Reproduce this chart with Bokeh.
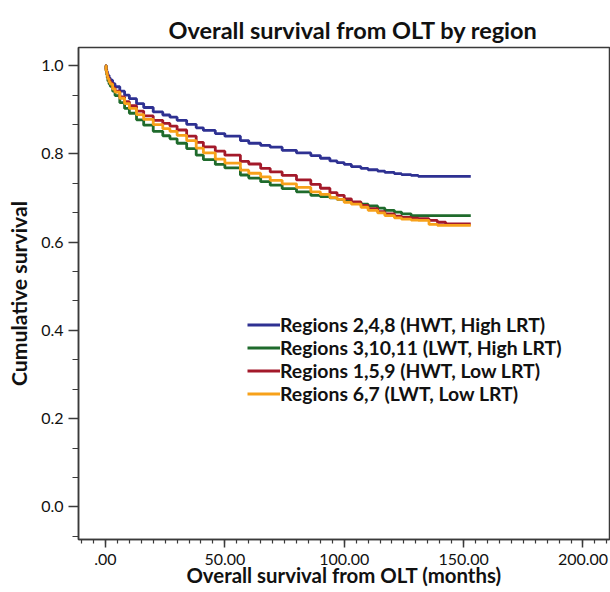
from bokeh.plotting import figure
from bokeh.models import Range1d, FixedTicker, Legend, LegendItem
from bokeh.embed import file_html
from bokeh.resources import INLINE

# ---- data ----
series_labels = [
    "Regions 2,4,8 (HWT, High LRT)",
    "Regions 3,10,11 (LWT, High LRT)",
    "Regions 1,5,9 (HWT, Low LRT)",
    "Regions 6,7 (LWT, Low LRT)",
]
series_colors = ["#2e3192", "#1f6b2c", "#a3192a", "#f7a11a"]

months = [0, 0.25, 0.5, 0.75, 1, 1.5, 2, 3, 4, 6, 8, 10, 13, 16, 20, 24, 27, 30, 34,
          38, 41, 46, 50, 56.5, 60, 65, 69, 74, 80, 86, 90, 94, 97, 100, 103, 107,
          110, 114, 117, 121, 124, 128, 131, 135.5, 139, 142.5, 153]

surv_248 = [1.0, 0.992, 0.987, 0.982, 0.978, 0.972, 0.967, 0.959, 0.952, 0.942, 0.933,
            0.925, 0.914, 0.905, 0.895, 0.888, 0.883, 0.876, 0.867, 0.859, 0.853, 0.846,
            0.840, 0.830, 0.824, 0.819, 0.815, 0.808, 0.802, 0.796, 0.790, 0.784, 0.780,
            0.776, 0.771, 0.767, 0.764, 0.761, 0.758, 0.755, 0.753, 0.751, 0.749, 0.749,
            0.749, 0.749, 0.749]
surv_31011 = [1.0, 0.988, 0.980, 0.972, 0.965, 0.958, 0.953, 0.942, 0.932, 0.916, 0.903,
              0.892, 0.877, 0.865, 0.851, 0.841, 0.834, 0.824, 0.812, 0.797, 0.787, 0.776,
              0.768, 0.752, 0.745, 0.737, 0.729, 0.721, 0.714, 0.706, 0.703, 0.700, 0.697,
              0.692, 0.690, 0.686, 0.682, 0.677, 0.672, 0.668, 0.664, 0.660, 0.660, 0.660,
              0.660, 0.660, 0.660]
surv_159 = [1.0, 0.990, 0.984, 0.978, 0.972, 0.966, 0.960, 0.950, 0.942, 0.929, 0.918,
            0.909, 0.897, 0.886, 0.876, 0.869, 0.863, 0.854, 0.840, 0.826, 0.816, 0.806,
            0.797, 0.783, 0.777, 0.767, 0.759, 0.751, 0.741, 0.731, 0.722, 0.712, 0.706,
            0.698, 0.691, 0.683, 0.676, 0.669, 0.664, 0.659, 0.656, 0.654, 0.653, 0.649,
            0.645, 0.641, 0.641]
surv_67 = [1.0, 0.989, 0.982, 0.976, 0.970, 0.963, 0.958, 0.947, 0.940, 0.926, 0.914,
           0.903, 0.889, 0.878, 0.866, 0.857, 0.851, 0.842, 0.830, 0.813, 0.802, 0.788,
           0.779, 0.763, 0.756, 0.748, 0.740, 0.732, 0.724, 0.714, 0.708, 0.701, 0.697,
           0.690, 0.686, 0.679, 0.672, 0.666, 0.660, 0.655, 0.652, 0.650, 0.649, 0.640,
           0.638, 0.638, 0.638]
series_values = [surv_248, surv_31011, surv_159, surv_67]

x_ticks = [0, 50, 100, 150, 200]
x_tick_labels = [".00", "50.00", "100.00", "150.00", "200.00"]
y_ticks = [0.0, 0.2, 0.4, 0.6, 0.8, 1.0]
y_tick_labels = ["0.0", "0.2", "0.4", "0.6", "0.8", "1.0"]

FONT = "Lato"
AXIS_COL = "#3a3a3a"

p = figure(width=610, height=592,
           x_range=Range1d(-11.3, 211.1), y_range=Range1d(-0.074, 1.041),
           output_backend="svg", toolbar_location=None,
           min_border_left=78, min_border_right=1, min_border_top=47, min_border_bottom=53)

p.title.text = "Overall survival from OLT by region"
p.title.align = "left"
p.title.offset = 90
p.title.text_font = FONT
p.title.text_font_size = "23.5px"
p.title.text_font_style = "bold"
p.title.text_color = "#111111"
p.title.standoff = 8

p.xgrid.visible = False
p.ygrid.visible = False
p.outline_line_color = AXIS_COL
p.outline_line_width = 1.5
p.background_fill_color = "white"
p.border_fill_color = "white"

renderers = []
for vals, col in zip(series_values, series_colors):
    r = p.step(months, vals, mode="after", line_color=col, line_width=2.8)
    renderers.append(r)

minor_x = [v * 5 for v in range(-2, 43)]
minor_y = [k / 15 for k in range(-1, 16)]
p.xaxis.ticker = FixedTicker(ticks=x_ticks, minor_ticks=minor_x)
p.yaxis.ticker = FixedTicker(ticks=y_ticks, minor_ticks=minor_y)
p.xaxis.major_label_overrides = {t: s for t, s in zip(x_ticks, x_tick_labels)}
p.yaxis.major_label_overrides = {t: s for t, s in zip(y_ticks, y_tick_labels)}

for ax in (p.xaxis[0], p.yaxis[0]):
    ax.axis_line_color = AXIS_COL
    ax.axis_line_width = 1.5
    ax.major_tick_line_color = AXIS_COL
    ax.minor_tick_line_color = AXIS_COL
    ax.major_tick_line_width = 1.5
    ax.minor_tick_line_width = 1.2
    ax.major_tick_in = 0
    ax.minor_tick_in = 0
    ax.major_label_text_font = FONT
    ax.major_label_text_font_size = "16px"
    ax.major_label_text_color = "#111111"
    ax.axis_label_text_font = FONT
    ax.axis_label_text_font_style = "bold"
    ax.axis_label_text_color = "#111111"

p.xaxis.axis_label = "Overall survival from OLT (months)"
p.yaxis.axis_label = "Cumulative survival"
p.xaxis.axis_label_text_font_size = "20.4px"
p.yaxis.axis_label_text_font_size = "21.2px"
p.xaxis.major_tick_out = 8
p.xaxis.minor_tick_out = 4
p.yaxis.major_tick_out = 10
p.yaxis.minor_tick_out = 6
p.xaxis.major_label_standoff = 6
p.xaxis.axis_label_standoff = -5
p.yaxis.major_label_standoff = 5
p.yaxis.axis_label_standoff = 6

legend = Legend(items=[LegendItem(label=l, renderers=[r]) for l, r in zip(series_labels, renderers)],
                location=(169, 134))
legend.background_fill_alpha = 0
legend.border_line_alpha = 0
legend.padding = 0
legend.margin = 0
legend.spacing = 0
legend.glyph_width = 33
legend.glyph_height = 23
legend.label_height = 23
legend.label_standoff = 0
legend.label_text_font = FONT
legend.label_text_font_style = "bold"
legend.label_text_font_size = "19.4px"
legend.label_text_color = "#111111"
p.add_layout(legend)

open("out.html", "w").write(file_html(p, INLINE))
